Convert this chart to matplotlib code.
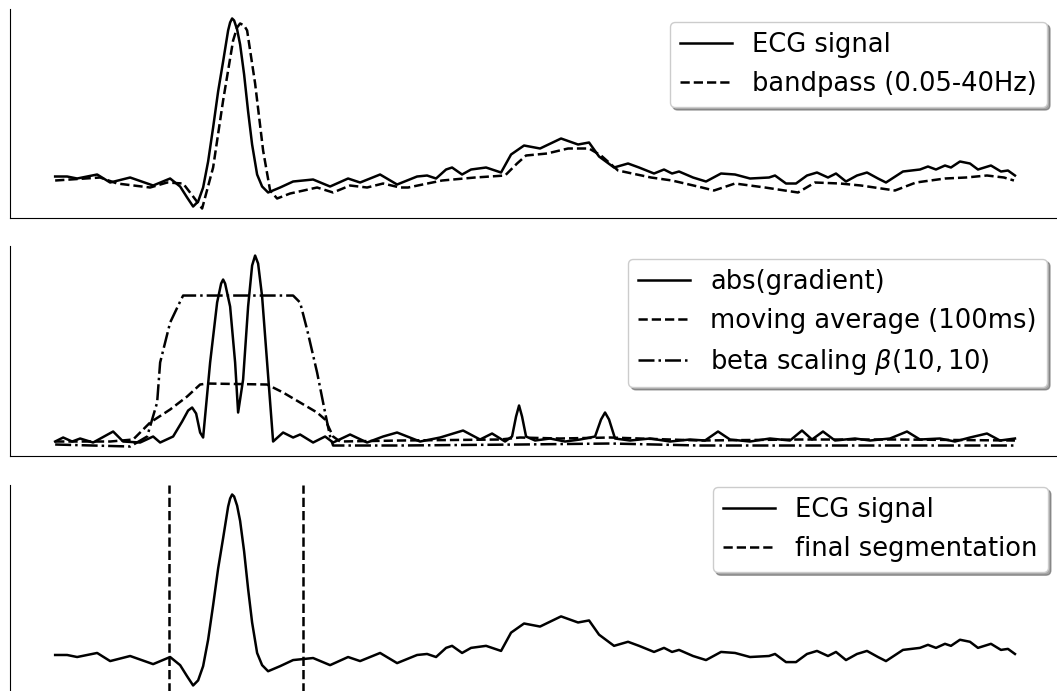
import numpy as np
import matplotlib.pyplot as plt

# ECG beat (solid line, top and bottom panels)
ecg_t = [55, 67, 77, 97, 110, 130, 153, 170, 180, 187, 193, 198, 203, 208, 213, 218,
         223, 228, 230, 232, 234, 237, 240, 244, 248, 252, 257, 262, 268, 280, 293,
         313, 330, 348, 360, 380, 397, 417, 427, 436, 446, 452, 462, 471, 486, 501,
         511, 524, 540, 561, 578, 589, 599, 614, 628, 639, 654, 664, 672, 679, 693,
         706, 721, 735, 750, 769, 775, 786, 796, 807, 817, 828, 836, 846, 857, 867,
         878, 886, 903, 920, 928, 936, 945, 951, 960, 970, 978, 991, 1001, 1008, 1015]
ecg_v = [0.00, 0.00, -0.02, 0.02, -0.06, -0.01, -0.09, -0.02, -0.10, -0.21, -0.30,
         -0.25, -0.11, 0.15, 0.49, 0.85, 1.15, 1.46, 1.54, 1.58, 1.56, 1.47, 1.32,
         1.02, 0.65, 0.32, 0.02, -0.10, -0.16, -0.11, -0.05, -0.03, -0.10, -0.02,
         -0.06, 0.02, -0.08, 0.00, 0.01, -0.02, 0.07, 0.09, 0.02, 0.07, 0.09, 0.04,
         0.22, 0.31, 0.28, 0.38, 0.32, 0.34, 0.20, 0.09, 0.13, 0.09, 0.03, 0.07,
         0.03, 0.05, -0.01, -0.05, 0.03, 0.02, -0.02, -0.01, 0.01, -0.07, -0.07,
         0.01, 0.04, -0.01, 0.03, -0.05, 0.01, 0.04, -0.02, -0.06, 0.05, 0.07, 0.10,
         0.07, 0.11, 0.09, 0.15, 0.13, 0.07, 0.11, 0.05, 0.06, 0.01]

# bandpass filtered version (dashed, top panel)
bp_t = [55, 100, 117, 150, 167, 183, 193, 202, 213, 223, 233, 237, 240, 244, 247,
        255, 263, 270, 277, 290, 317, 333, 350, 367, 383, 400, 408, 442, 475, 505,
        517, 526, 547, 568, 589, 601, 618, 651, 672, 702, 714, 735, 765, 798, 815,
        840, 861, 895, 916, 945, 966, 987, 1004, 1014]
bp_v = [-0.04, -0.01, -0.07, -0.11, -0.06, -0.07, -0.20, -0.32, 0.09, 0.76, 1.36,
        1.49, 1.53, 1.51, 1.46, 0.93, 0.26, -0.14, -0.22, -0.17, -0.11, -0.16,
        -0.09, -0.11, -0.07, -0.11, -0.11, -0.04, -0.01, 0.01, 0.13, 0.21, 0.23,
        0.28, 0.28, 0.21, 0.06, -0.01, -0.04, -0.11, -0.14, -0.07, -0.11, -0.16,
        -0.06, -0.07, -0.09, -0.14, -0.06, -0.02, -0.01, 0.01, -0.01, -0.04]

# abs(gradient) (solid, middle panel)
grad_t = [55, 63, 72, 80, 93, 113, 123, 140, 153, 160, 173, 182, 188, 192, 196, 200,
          203, 210, 217, 221, 223, 225, 230, 235, 238, 243, 248, 252, 255, 258, 262,
          267, 273, 283, 293, 300, 313, 325, 333, 350, 367, 383, 397, 420, 440, 463,
          480, 492, 505, 512, 516, 519, 522, 526, 535, 550, 565, 580, 595, 601, 605,
          609, 615, 630, 650, 670, 690, 705, 718, 730, 750, 770, 790, 802, 812, 823,
          835, 855, 870, 890, 907, 920, 940, 955, 970, 987, 1000, 1015]
grad_v = [0.00, 0.04, 0.00, 0.03, -0.01, 0.10, 0.00, -0.01, 0.05, -0.01, 0.05, 0.20,
          0.31, 0.34, 0.28, 0.09, 0.04, 0.79, 1.39, 1.58, 1.62, 1.58, 1.35, 0.79,
          0.29, 0.62, 1.35, 1.76, 1.86, 1.78, 1.45, 0.79, 0.00, 0.09, 0.04, 0.07,
          -0.01, 0.05, -0.01, 0.07, -0.01, 0.05, 0.09, 0.00, 0.04, 0.11, 0.02, 0.08,
          0.00, 0.05, 0.25, 0.36, 0.25, 0.05, 0.01, 0.03, 0.00, 0.02, 0.05, 0.22,
          0.29, 0.22, 0.03, 0.01, 0.03, 0.00, 0.02, 0.01, 0.10, 0.02, 0.00, 0.03,
          0.01, 0.11, 0.02, 0.10, 0.01, 0.03, 0.01, 0.03, 0.10, 0.02, 0.03, 0.00,
          0.04, 0.08, 0.01, 0.03]

# moving average (dashed, middle panel)
ma_t = [55, 110, 133, 150, 170, 187, 200, 207, 267, 283, 300, 317, 325, 333, 340,
        400, 500, 520, 560, 610, 700, 800, 900, 1015]
ma_v = [0.00, 0.00, 0.02, 0.19, 0.32, 0.45, 0.57, 0.58, 0.57, 0.49, 0.39, 0.29,
        0.22, 0.05, 0.00, 0.01, 0.02, 0.04, 0.03, 0.04, 0.01, 0.02, 0.02, 0.01]

# beta scaling (dash-dot, middle panel)
beta_t = [55, 130, 147, 157, 160, 170, 180, 183, 293, 300, 307, 317, 325, 330, 333,
          400, 520, 610, 700, 1015]
beta_v = [-0.03, -0.05, 0.05, 0.39, 0.79, 1.19, 1.40, 1.46, 1.46, 1.39, 1.12, 0.69,
          0.29, 0.05, -0.04, -0.04, -0.03, -0.02, -0.04, -0.04]

# final segmentation bounds
seg_bounds = [169, 303]

fig = plt.figure(figsize=(10.57, 6.91), dpi=100)
ax1 = fig.add_axes([0.0095, 0.6845, 0.9934, 0.3025])
ax2 = fig.add_axes([0.0095, 0.340, 0.9934, 0.304])
ax3 = fig.add_axes([0.0095, -0.0058, 0.9934, 0.304])

lw = 1.8
ax1.plot(ecg_t, ecg_v, color="black", lw=lw, label="ECG signal")
ax1.plot(bp_t, bp_v, color="black", lw=lw, ls="--", label="bandpass (0.05-40Hz)")

ax2.plot(grad_t, grad_v, color="black", lw=lw, label="abs(gradient)")
ax2.plot(ma_t, ma_v, color="black", lw=lw, ls="--", label="moving average (100ms)")
ax2.plot(beta_t, beta_v, color="black", lw=lw, ls="-.", label=r"beta scaling $\beta(10, 10)$")

ax3.plot(ecg_t, ecg_v, color="black", lw=lw, label="ECG signal")
for i, b in enumerate(seg_bounds):
    ax3.axvline(b, color="black", lw=lw, ls="--", label="final segmentation" if i == 0 else None)

for ax in [ax1, ax2, ax3]:
    ax.margins(x=0.047)
    ax.spines["top"].set_visible(False)
    ax.spines["right"].set_visible(False)
    ax.set_xticks([])
    ax.set_yticks([])

leg_kw = dict(shadow=True, fancybox=True, framealpha=1, fontsize=18.5)
ax1.legend(loc="upper right", **leg_kw)
ax2.legend(loc="upper right", **leg_kw)
ax3.legend(loc="upper right", bbox_to_anchor=(0.9886, 0.99), borderaxespad=0, **leg_kw)

fig.savefig("out.png", dpi=100)
